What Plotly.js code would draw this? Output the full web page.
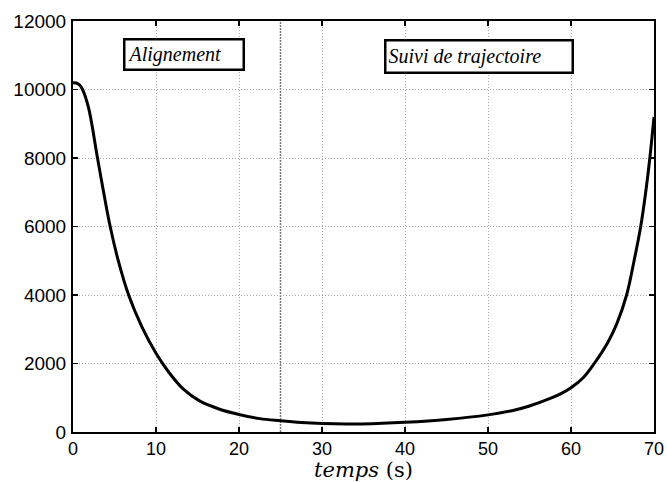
<!DOCTYPE html>
<html>
<head>
<meta charset="utf-8">
<script src="https://cdn.plot.ly/plotly-3.0.1.min.js"></script>
<style>html,body{margin:0;padding:0;background:#fff;}#chart{width:667px;height:482px;}</style>
</head>
<body>
<div id="chart"></div>
<script>
// Data
const temps = [0, 0.4, 0.8, 1.15, 1.87, 2.95, 3.67, 4.48, 5.48, 6.7, 8.3, 10, 11.5, 13.3, 15.3, 17.5, 20, 22.5, 25, 27.5, 30, 33, 36, 40, 45, 50, 53, 55, 57.5, 58.8, 60, 61.5, 62.8, 64.4, 65.5, 66.7, 67.6, 68.4, 69, 69.5, 70];
const valeurs = [10200, 10190, 10130, 10000, 9470, 8000, 7030, 6000, 4980, 4000, 3070, 2300, 1760, 1250, 900, 680, 510, 390, 330, 280, 250, 235, 242, 282, 365, 500, 630, 760, 980, 1120, 1290, 1590, 2000, 2600, 3150, 4000, 5000, 6000, 7000, 8000, 9200];
const xTicks = [0, 10, 20, 30, 40, 50, 60, 70];
const yTicks = [0, 2000, 4000, 6000, 8000, 10000, 12000];
const separatorX = 25;
const phaseLabels = ["Alignement", "Suivi de trajectoire"];
const phaseLeftX = [6.08, 37.45];
const phaseCenterY = [11030, 10950];

const trace = {
  x: temps, y: valeurs, type: 'scatter', mode: 'lines',
  line: {color: '#000', width: 3, shape: 'spline', smoothing: 1},
  hoverinfo: 'skip'
};

const axisCommon = {
  showline: true, linecolor: '#000', linewidth: 2, mirror: 'ticks',
  ticks: 'inside', ticklen: 5, tickwidth: 1.5, tickcolor: '#000',
  showgrid: true, gridcolor: '#a8a8a8', gridwidth: 1, griddash: '1px,2px',
  zeroline: false,
  tickfont: {family: 'Liberation Sans, Arial, sans-serif', size: 19, color: '#000'}
};

const layout = {
  width: 667, height: 482,
  margin: {l: 73, r: 13, t: 21, b: 50},
  paper_bgcolor: '#fff', plot_bgcolor: '#fff',
  showlegend: false,
  xaxis: Object.assign({}, axisCommon, {
    range: [0, 70], tickvals: xTicks, ticktext: xTicks.map(String),
    tickfont: {family: 'Liberation Sans, Arial, sans-serif', size: 18, color: '#000'},
    ticklabelstandoff: -1,
    title: {text: '<i>temps</i> (s)', font: {family: 'DejaVu Serif, serif', size: 21, color: '#000'}, standoff: 4}
  }),
  yaxis: Object.assign({}, axisCommon, {
    range: [0, 12000], tickvals: yTicks, ticktext: yTicks.map(String),
    ticklabelstandoff: 1
  }),
  shapes: [{
    type: 'line', xref: 'x', yref: 'paper', x0: separatorX, x1: separatorX, y0: 0, y1: 1,
    line: {color: '#777777', width: 1.5, dash: '2px,1px'}, layer: 'below'
  }],
  annotations: [
    {text: '<i>' + phaseLabels[0] + '</i>', x: phaseLeftX[0], y: phaseCenterY[0], xref: 'x', yref: 'y',
     xanchor: 'left', yanchor: 'middle', showarrow: false, align: 'left', width: 113, height: 24,
     bordercolor: '#000', borderwidth: 2.5, borderpad: 2, bgcolor: '#fff',
     font: {family: 'Liberation Serif, Times New Roman, serif', size: 20, color: '#000'}},
    {text: '<i>' + phaseLabels[1] + '</i>', x: phaseLeftX[1], y: phaseCenterY[1], xref: 'x', yref: 'y',
     xanchor: 'left', yanchor: 'middle', showarrow: false, align: 'left', width: 181, height: 26,
     bordercolor: '#000', borderwidth: 2.5, borderpad: 2, bgcolor: '#fff',
     font: {family: 'Liberation Serif, Times New Roman, serif', size: 20, color: '#000'}}
  ]
};

Plotly.newPlot('chart', [trace], layout, {staticPlot: true, displayModeBar: false});
</script>
</body>
</html>
